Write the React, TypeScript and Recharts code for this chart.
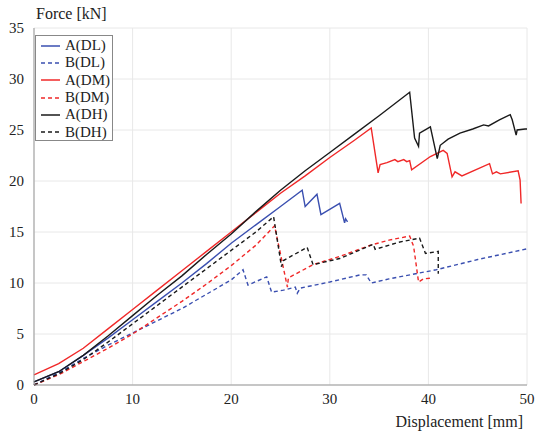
import React from 'react';
import { LineChart, Line, XAxis, YAxis, CartesianGrid } from 'recharts';

type Pt = [number, number];

// displacement [mm], force [kN]
const aDL: Pt[] = [
  [0, 0.3], [2.5, 1.3], [5, 2.9], [7.5, 4.6], [10, 6.4], [12.5, 8.2], [15, 10.0], [17.5, 11.9],
  [20, 13.9], [22.5, 15.7], [25, 17.5], [27.2, 19.1], [27.5, 17.5], [28.7, 18.7], [29.1, 16.7],
  [31.0, 17.8], [31.5, 15.9], [31.6, 16.3], [31.8, 16.0],
];
const bDL: Pt[] = [
  [0, 0], [2.5, 1.2], [5, 2.6], [7.5, 3.9], [10, 5.1], [12.5, 6.3], [15, 7.5], [17.5, 8.9],
  [20, 10.3], [21.2, 11.3], [21.7, 9.8], [23.6, 10.6], [24.1, 9.1], [25.3, 9.3], [26.5, 9.6],
  [26.7, 9.0], [27.0, 9.5], [30, 10.1], [33.1, 10.8], [33.7, 10.8], [34.2, 10.0], [36, 10.4],
  [40.8, 11.3], [45, 12.3], [50, 13.35],
];
const aDM: Pt[] = [
  [0, 1.0], [2.5, 2.1], [5, 3.6], [7.5, 5.5], [10, 7.4], [12.5, 9.3], [15, 11.2], [17.5, 13.1],
  [20, 15.0], [22.5, 16.9], [25, 18.8], [27.5, 20.5], [30, 22.3], [32.5, 24.0], [34.2, 25.2],
  [34.9, 20.8], [35.1, 21.6], [35.8, 21.8], [36.6, 22.1], [36.9, 21.9], [37.5, 22.1], [37.8, 21.9],
  [38.1, 22.0], [38.3, 21.1], [40.2, 22.4], [41.5, 23.0], [41.9, 22.7], [42.4, 20.4], [42.7, 20.9],
  [43.4, 20.5], [46.2, 21.7], [46.5, 20.7], [46.9, 20.9], [47.3, 20.7], [49.1, 21.0], [49.3, 20.1],
  [49.4, 17.8],
];
const bDM: Pt[] = [
  [0, 0], [2.5, 1.0], [5, 2.3], [7.5, 3.6], [10, 5.0], [12.5, 6.6], [15, 8.2], [17.5, 9.9],
  [20, 11.7], [22.5, 13.7], [24.4, 15.6], [25.7, 9.6], [25.8, 10.5], [28.3, 11.8], [31.0, 12.6],
  [34.1, 13.7], [36, 14.2], [38.1, 14.6], [38.5, 13.6], [39.0, 10.1], [39.5, 10.4], [40.4, 10.5],
];
const aDH: Pt[] = [
  [0, 0.3], [2.5, 1.3], [5, 2.9], [7.5, 4.8], [10, 6.8], [12.5, 8.8], [15, 10.7], [17.5, 12.8],
  [20, 14.8], [22.5, 17.0], [25, 19.1], [27.5, 21.0], [30, 22.8], [32.5, 24.6], [35, 26.4],
  [38.1, 28.7], [38.6, 24.2], [39.0, 23.4], [39.1, 24.7], [40.2, 25.3], [40.9, 22.2], [41.2, 23.5],
  [42, 24.1], [43.2, 24.7], [44.5, 25.1], [45.6, 25.5], [46.1, 25.4], [47.2, 26.0], [48.3, 26.5],
  [48.5, 26.0], [48.9, 24.5], [49.0, 25.0], [49.8, 25.1], [50, 25.1],
];
const bDH: Pt[] = [
  [0, 0], [2.5, 1.1], [5, 2.5], [7.5, 4.2], [10, 6.0], [12.5, 7.8], [15, 9.6], [17.5, 11.4],
  [20, 13.2], [22.5, 15.0], [24.3, 16.5], [25.1, 11.6], [25.3, 12.2], [27.7, 13.5], [28.3, 11.8],
  [31.0, 12.4], [34.4, 13.8], [34.6, 13.3], [37, 14.0], [39.1, 14.4], [39.7, 12.9], [41.0, 13.1],
  [41.0, 10.9],
];

const xTicks = [0, 10, 20, 30, 40, 50];
const yTicks = [0, 5, 10, 15, 20, 25, 30, 35];

const BLUE = '#3a4fb0';
const RED = '#f02828';
const BLACK = '#1a1a1a';
const FONT = '"Liberation Serif", "DejaVu Serif", serif';

const series = [
  { name: 'A(DL)', pts: aDL, color: BLUE, dash: undefined },
  { name: 'B(DL)', pts: bDL, color: BLUE, dash: '4 3' },
  { name: 'A(DM)', pts: aDM, color: RED, dash: undefined },
  { name: 'B(DM)', pts: bDM, color: RED, dash: '4 3' },
  { name: 'A(DH)', pts: aDH, color: BLACK, dash: undefined },
  { name: 'B(DH)', pts: bDH, color: BLACK, dash: '4 3' },
];

const toRows = (pts: Pt[]) => pts.map(([x, y]) => ({ x, y }));

const LegendBox = () => (
  <div
    style={{
      position: 'absolute',
      left: 35,
      top: 35,
      boxSizing: 'border-box',
      width: 78,
      height: 106,
      border: '1px solid #888',
      background: '#fff',
      padding: '1px 0 0 4px',
      fontFamily: FONT,
      fontSize: 15,
      color: '#222',
    }}
  >
    {series.map((s) => (
      <div key={s.name} style={{ display: 'flex', alignItems: 'center', height: 17.3, lineHeight: '17px' }}>
        <svg width={21} height={10} style={{ marginRight: 4, flex: 'none' }}>
          <line x1={1} y1={5} x2={20} y2={5} stroke={s.color} strokeWidth={1.5} strokeDasharray={s.dash} />
        </svg>
        <span>{s.name}</span>
      </div>
    ))}
  </div>
);

const App: React.FC = () => {
  const tick = { fontFamily: FONT, fontSize: 15, fill: '#222' };
  return (
    <div style={{ position: 'absolute', left: 0, top: 0, width: 539, height: 431, background: '#fff' }}>
      <LineChart width={539} height={431} margin={{ top: 28, right: 12, bottom: 0, left: 0 }}>
        <CartesianGrid stroke="#e8e8e8" />
        <XAxis
          dataKey="x"
          type="number"
          domain={[0, 50]}
          ticks={xTicks}
          tickLine={false}
          axisLine={{ stroke: '#999' }}
          tick={tick}
          height={46}
          allowDuplicatedCategory={false}
          label={{ value: 'Displacement [mm]', position: 'insideBottomRight', offset: 4, style: { fontFamily: FONT, fontSize: 16, fill: '#222' } }}
        />
        <XAxis xAxisId="top" orientation="top" type="number" domain={[0, 50]} tick={false} tickLine={false} axisLine={{ stroke: '#999' }} height={0} />
        <YAxis
          type="number"
          domain={[0, 35]}
          ticks={yTicks}
          tickLine={false}
          axisLine={{ stroke: '#999' }}
          tick={tick}
          width={34}
          tickMargin={4}
        />
        <YAxis yAxisId="right" orientation="right" type="number" domain={[0, 35]} tick={false} tickLine={false} axisLine={{ stroke: '#999' }} width={0} />
        {series.map((s) => (
          <Line
            key={s.name}
            name={s.name}
            data={toRows(s.pts)}
            dataKey="y"
            stroke={s.color}
            strokeWidth={1.4}
            strokeDasharray={s.dash}
            dot={false}
            activeDot={false}
            isAnimationActive={false}
            type="linear"
          />
        ))}
        <text x={36} y={19} fontFamily={FONT} fontSize={16} fill="#222">
          Force [kN]
        </text>
      </LineChart>
      <LegendBox />
    </div>
  );
};

export default App;
